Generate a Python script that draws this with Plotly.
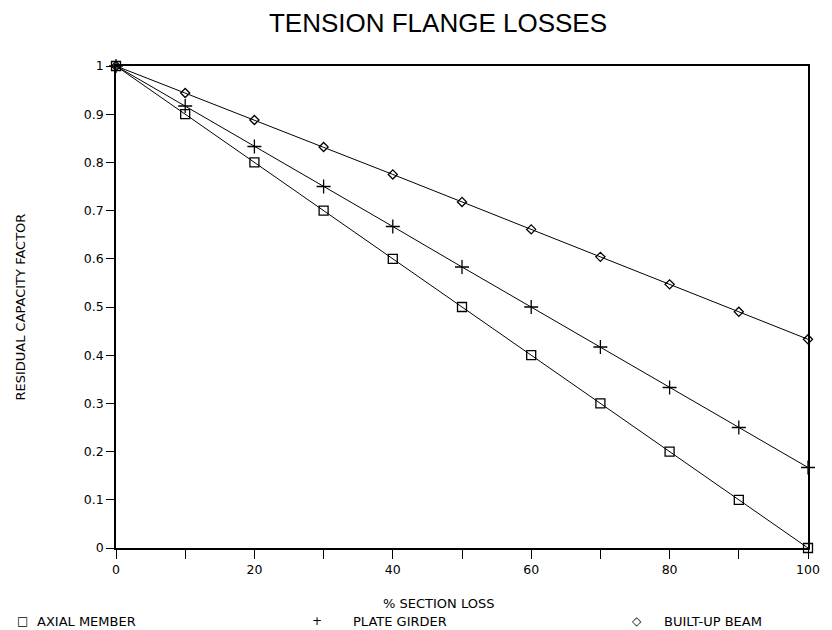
import plotly.graph_objects as go

section_loss = [0, 10, 20, 30, 40, 50, 60, 70, 80, 90, 100]
axial_member = [1.0, 0.9, 0.8, 0.7, 0.6, 0.5, 0.4, 0.3, 0.2, 0.1, 0.0]
plate_girder = [1.0, 0.917, 0.833, 0.75, 0.667, 0.583, 0.5, 0.417, 0.333, 0.25, 0.167]
built_up_beam = [1.0, 0.944, 0.888, 0.832, 0.775, 0.718, 0.661, 0.604, 0.547, 0.49, 0.433]

series_names = ["AXIAL MEMBER", "PLATE GIRDER", "BUILT-UP BEAM"]
legend_glyphs = ["\u25a1", "+", "\u25c7"]
y_tick_vals = [0, 0.1, 0.2, 0.3, 0.4, 0.5, 0.6, 0.7, 0.8, 0.9, 1.0]
y_tick_text = ["0", "0.1", "0.2", "0.3", "0.4", "0.5", "0.6", "0.7", "0.8", "0.9", "1"]

FONT = "Liberation Sans, Arial, sans-serif"
OFF = 8  # default page margin of the html body
W, H = 832 - OFF, 630 - OFF
# plot area in page pixels: x 116..812, y 66..548
L, R, T, B = 116 - OFF, W - (812 - OFF), 66 - OFF, H - (548 - OFF)
PW, PH = W - L - R, H - T - B


def px_x(p):
    return (p - OFF - L) / PW


def px_y(p):
    return (H - B - (p - OFF)) / PH


fig = go.Figure()
styles = [
    dict(symbol="square-open", size=9),
    dict(symbol="cross-thin-open", size=10),
    dict(symbol="diamond-open", size=7),
]
for name, ys, st in zip(series_names, [axial_member, plate_girder, built_up_beam], styles):
    fig.add_trace(go.Scatter(
        x=section_loss, y=ys, mode="lines+markers", name=name,
        line=dict(color="black", width=1),
        marker=dict(symbol=st["symbol"], size=st["size"], color="black",
                    line=dict(color="black", width=1.3)),
        cliponaxis=False, showlegend=False,
    ))

fig.update_layout(
    width=W, height=H,
    margin=dict(l=L, r=R, t=T, b=B),
    paper_bgcolor="white", plot_bgcolor="white",
    font=dict(family=FONT, color="black", size=12),
    title=dict(text="TENSION FLANGE LOSSES", x=(438 - OFF) / W, xanchor="center",
               y=1 - (23 - OFF) / H, yanchor="middle",
               font=dict(family=FONT, size=26, color="black")),
)
fig.update_xaxes(
    range=[0, 100], showgrid=False, zeroline=False,
    showline=True, linecolor="black", linewidth=1.5, mirror=True,
    ticks="outside", ticklen=9, tickwidth=1.2, tickcolor="black",
    tickmode="linear", tick0=0, dtick=20,
    minor=dict(ticks="outside", ticklen=9, tickwidth=1.2, tickcolor="black",
               tick0=0, dtick=10, showgrid=False),
    tickfont=dict(family="DejaVu Sans", size=12.5),
)
fig.update_yaxes(
    range=[0, 1], showgrid=False, zeroline=False,
    showline=True, linecolor="black", linewidth=1.5, mirror=True,
    ticks="outside", ticklen=8, tickwidth=1.2, tickcolor="black",
    tickmode="array", tickvals=y_tick_vals, ticktext=y_tick_text,
    tickfont=dict(family="DejaVu Sans", size=12.5),
)

annotations = [
    dict(text="% SECTION LOSS", x=px_x(440), y=px_y(603), xanchor="center", yanchor="middle",
         font=dict(family="DejaVu Sans", size=13)),
    dict(text="RESIDUAL CAPACITY FACTOR", x=px_x(19), y=0.5, textangle=-90,
         xanchor="center", yanchor="middle", font=dict(family="DejaVu Sans", size=13)),
]
glyph_x = [22, 318, 640]
label_x = [35, 352, 665]
for g, gx, name, lx in zip(legend_glyphs, glyph_x, series_names, label_x):
    annotations.append(dict(text=g, x=px_x(gx), y=px_y(621), xanchor="center", yanchor="middle",
                            font=dict(family="DejaVu Sans", size=12)))
    annotations.append(dict(text=name, x=px_x(lx), y=px_y(621), xanchor="left", yanchor="middle",
                            font=dict(family="DejaVu Sans", size=13)))
for a in annotations:
    a.update(xref="paper", yref="paper", showarrow=False)
fig.update_layout(annotations=annotations)

fig.write_html("out.html")
